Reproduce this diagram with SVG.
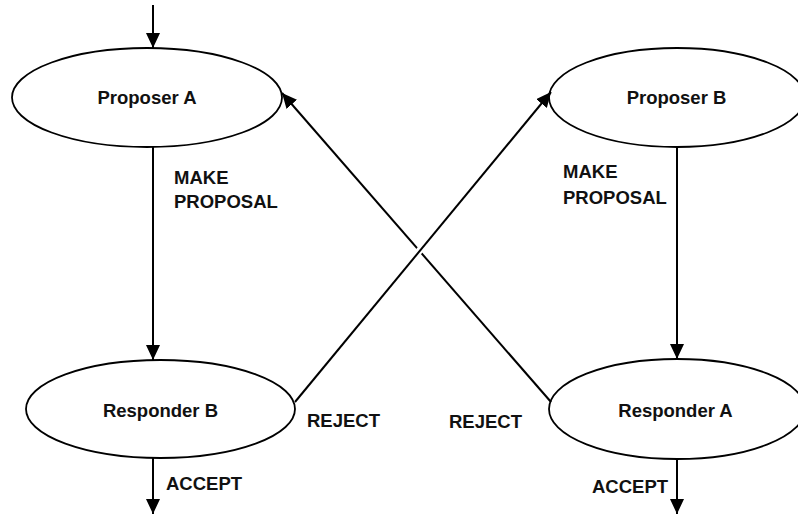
<svg xmlns="http://www.w3.org/2000/svg" width="798" height="516" viewBox="0 0 798 516">
  <style>
    .node { fill: #ffffff; stroke: #000000; stroke-width: 1.8; }
    .lbl { font-family: "Liberation Sans", Arial, sans-serif; font-size: 18.5px; font-weight: bold; fill: #111111; }
    .edge { fill: none; stroke: #000000; stroke-width: 2; }
    .halo { fill: none; stroke: #ffffff; stroke-width: 7; }
  </style>
  <defs>
    <marker id="arrow" markerUnits="userSpaceOnUse" markerWidth="16" markerHeight="14" refX="15" refY="7" orient="auto">
      <path d="M0,0 L15,7 L0,14 z" fill="#000000"/>
    </marker>
  </defs>
  <rect width="798" height="516" fill="#ffffff"/>

  <g id="proposer-a">
    <ellipse class="node" cx="147" cy="97.5" rx="135" ry="49.5"/>
    <text class="lbl" x="147" y="104" text-anchor="middle">Proposer A</text>
  </g>
  <g id="proposer-b">
    <ellipse class="node" cx="677" cy="97.5" rx="128" ry="49.5"/>
    <text class="lbl" x="676.5" y="104" text-anchor="middle">Proposer B</text>
  </g>
  <g id="responder-b">
    <ellipse class="node" cx="160.5" cy="409" rx="134.5" ry="49"/>
    <text class="lbl" x="160.5" y="417" text-anchor="middle">Responder B</text>
  </g>
  <g id="responder-a">
    <ellipse class="node" cx="677" cy="409" rx="128" ry="50"/>
    <text class="lbl" x="675.5" y="417" text-anchor="middle">Responder A</text>
  </g>

  <g id="connectors">
    <line class="edge" x1="153" y1="5" x2="153" y2="48" marker-end="url(#arrow)"/>
    <line class="edge" x1="153" y1="147" x2="153" y2="360" marker-end="url(#arrow)"/>
    <line class="edge" x1="677" y1="147" x2="677" y2="359" marker-end="url(#arrow)"/>
    <line class="edge" x1="153" y1="458" x2="153" y2="514" marker-end="url(#arrow)"/>
    <line class="edge" x1="677" y1="459" x2="677" y2="514" marker-end="url(#arrow)"/>
    <line class="edge" x1="551" y1="402" x2="282" y2="93" marker-end="url(#arrow)"/>
    <line class="halo" x1="380" y1="298" x2="460" y2="202"/>
    <line class="edge" x1="295" y1="402" x2="551" y2="92" marker-end="url(#arrow)"/>
  </g>

  <g id="edge-labels">
    <text class="lbl" x="174" y="184">MAKE</text>
    <text class="lbl" x="174" y="208">PROPOSAL</text>
    <text class="lbl" x="563" y="178">MAKE</text>
    <text class="lbl" x="563" y="204">PROPOSAL</text>
    <text class="lbl" x="307" y="427">REJECT</text>
    <text class="lbl" x="449" y="428">REJECT</text>
    <text class="lbl" x="166" y="490">ACCEPT</text>
    <text class="lbl" x="592" y="493">ACCEPT</text>
  </g>
</svg>
